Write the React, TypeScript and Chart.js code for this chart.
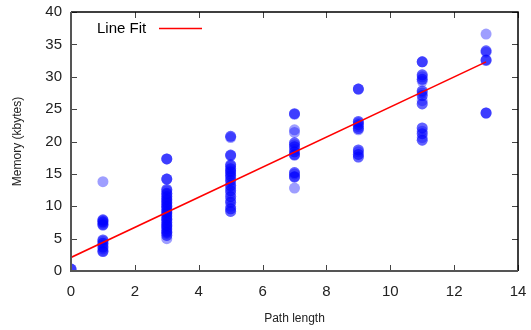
import React, { useEffect, useRef } from "react";
import { Chart, registerables } from "chart.js";

Chart.register(...registerables);

const pathLengths = [0, 1, 3, 5, 7, 9, 11, 13];
const memAt0 = [0.3, 0.3, 0.3];
const memAt1 = [13.8, 7.9, 7.9, 7.8, 7.6, 7.6, 7.4, 7.2, 7.1, 7.1, 4.8, 4.8, 4.6, 4.3, 4.3, 4.0, 3.7, 3.7, 3.4, 3.1, 3.0, 3.0];
const memAt3 = [17.3, 17.3, 17.3, 14.2, 14.2, 14.2, 12.6, 12.6, 12.4, 12.0, 12.0, 11.8, 11.5, 11.5, 11.2, 11.0, 11.0, 10.7, 10.5, 10.5, 10.2, 10.0, 10.0, 9.8, 9.5, 9.5, 9.2, 9.0, 9.0, 8.8, 8.5, 8.5, 8.2, 8.0, 8.0, 7.8, 7.5, 7.5, 7.2, 7.0, 7.0, 6.8, 6.5, 6.5, 6.2, 6.0, 6.0, 5.8, 5.5, 5.5, 5.0];
const memAt5 = [20.8, 20.8, 20.6, 17.9, 17.9, 17.8, 16.4, 16.4, 16.2, 15.8, 15.8, 15.5, 15.3, 15.3, 15.0, 14.7, 14.7, 14.4, 14.0, 14.0, 13.6, 13.2, 13.2, 12.8, 12.4, 12.4, 12.0, 11.5, 11.5, 11.0, 10.6, 10.6, 10.0, 9.6, 9.6, 9.2, 9.2];
const memAt7 = [24.3, 24.3, 24.2, 21.8, 21.4, 19.8, 19.8, 19.5, 19.2, 19.2, 18.8, 18.4, 18.4, 18.0, 17.9, 17.9, 15.2, 15.2, 15.0, 14.6, 14.5, 14.5, 12.8];
const memAt9 = [28.1, 28.1, 28.1, 23.1, 23.1, 22.9, 22.6, 22.6, 22.3, 22.0, 22.0, 21.8, 18.7, 18.7, 18.4, 18.0, 18.0, 17.6, 17.6];
const memAt11 = [32.3, 32.3, 32.3, 30.3, 30.3, 30.0, 29.6, 29.6, 29.3, 27.8, 27.8, 27.5, 27.1, 27.1, 26.3, 25.8, 25.8, 22.1, 22.1, 21.6, 21.2, 21.2, 20.6, 20.2, 20.2];
const memAt13 = [36.6, 34.0, 34.0, 33.8, 32.6, 32.6, 32.5, 24.4, 24.4, 24.4];
const memoryByPath = [memAt0, memAt1, memAt3, memAt5, memAt7, memAt9, memAt11, memAt13];

const fitX = [0, 13];
const fitY = [2.1, 32.3];

const xTicks = [0, 2, 4, 6, 8, 10, 12, 14];
const yTicks = [0, 5, 10, 15, 20, 25, 30, 35, 40];

const legendLabel = "Line Fit";
const xTitle = "Path length";
const yTitle = "Memory (kbytes)";

const FONT = "'Liberation Sans', Arial, Helvetica, sans-serif";

const framePlugin = {
  id: "frameTicks",
  afterDatasetsDraw(chart: any) {
    const { ctx, chartArea } = chart;
    const { left, right, top, bottom } = chartArea;
    const xs = chart.scales.x;
    const ys = chart.scales.y;
    const tl = 6;
    ctx.save();
    ctx.lineWidth = 1;
    ctx.strokeStyle = "#444";
    ctx.beginPath();
    for (const v of xTicks) {
      const px = Math.round(xs.getPixelForValue(v)) + 0.5;
      ctx.moveTo(px, bottom);
      ctx.lineTo(px, bottom - tl);
      ctx.moveTo(px, top);
      ctx.lineTo(px, top + tl);
    }
    for (const v of yTicks) {
      const py = Math.round(ys.getPixelForValue(v)) + 0.5;
      ctx.moveTo(left, py);
      ctx.lineTo(left + tl, py);
      ctx.moveTo(right, py);
      ctx.lineTo(right - tl, py);
    }
    ctx.stroke();
    ctx.lineWidth = 1.5;
    ctx.strokeStyle = "#000";
    ctx.beginPath();
    ctx.moveTo(left, top);
    ctx.lineTo(right, top);
    ctx.lineTo(right, bottom);
    ctx.stroke();
    ctx.lineWidth = 2;
    ctx.strokeStyle = "#555";
    ctx.beginPath();
    ctx.moveTo(left, top);
    ctx.lineTo(left, bottom);
    ctx.lineTo(right, bottom);
    ctx.stroke();
    ctx.font = `15px ${FONT}`;
    ctx.fillStyle = "#000";
    ctx.textAlign = "left";
    ctx.textBaseline = "middle";
    ctx.fillText(legendLabel, left + 26, top + 17);
    ctx.strokeStyle = "#ff0000";
    ctx.lineWidth = 1.5;
    ctx.beginPath();
    ctx.moveTo(left + 88, top + 16.5);
    ctx.lineTo(left + 131, top + 16.5);
    ctx.stroke();
    ctx.restore();
  },
};

export default function App() {
  const canvasRef = useRef<HTMLCanvasElement | null>(null);

  useEffect(() => {
    if (!canvasRef.current) return;
    const points: { x: number; y: number }[] = [];
    pathLengths.forEach((p, i) => {
      memoryByPath[i].forEach((m) => points.push({ x: p, y: m }));
    });
    const fitPoints = fitX.map((x, i) => ({ x, y: fitY[i] }));

    const chart = new Chart(canvasRef.current, {
      type: "scatter",
      data: {
        datasets: [
          {
            label: "Data",
            data: points,
            pointRadius: 5.5,
            pointHoverRadius: 5.5,
            pointBorderWidth: 0,
            backgroundColor: "rgba(0,0,255,0.38)",
            borderColor: "rgba(0,0,255,0)",
            clip: 0,
            order: 2,
          } as any,
          {
            label: legendLabel,
            data: fitPoints,
            showLine: true,
            pointRadius: 0,
            borderColor: "#ff0000",
            borderWidth: 1.6,
            backgroundColor: "#ff0000",
            order: 1,
          } as any,
        ],
      },
      options: {
        animation: false,
        responsive: true,
        maintainAspectRatio: false,
        layout: { padding: { left: 0, top: 12, right: 13, bottom: 0 } },
        plugins: {
          legend: { display: false },
          tooltip: { enabled: false },
        },
        scales: {
          x: {
            type: "linear",
            min: 0,
            max: 14,
            afterFit: (s: any) => {
              s.height = 59;
              s.paddingLeft = 0;
              s.paddingRight = 0;
            },
            afterBuildTicks: (s: any) => {
              s.ticks = xTicks.map((v) => ({ value: v }));
            },
            grid: { display: false, drawTicks: false },
            border: { display: false },
            ticks: { padding: 12, color: "#222", font: { family: FONT, size: 15 }, maxRotation: 0 },
            title: { display: true, text: xTitle, color: "#222", font: { family: FONT, size: 12 }, padding: { top: 4, bottom: 4 } },
          },
          y: {
            type: "linear",
            min: 0,
            max: 40,
            afterFit: (s: any) => {
              s.width = 71;
              s.paddingTop = 0;
              s.paddingBottom = 0;
            },
            afterBuildTicks: (s: any) => {
              s.ticks = yTicks.map((v) => ({ value: v }));
            },
            grid: { display: false, drawTicks: false },
            border: { display: false },
            ticks: { padding: 9, color: "#222", font: { family: FONT, size: 15 } },
            title: { display: true, text: yTitle, color: "#222", font: { family: FONT, size: 12 }, padding: { top: 10, bottom: 4 } },
          },
        },
      },
      plugins: [framePlugin],
    });
    return () => chart.destroy();
  }, []);

  return (
    <div style={{ position: "fixed", left: 0, top: 0, width: 531, height: 330, background: "#fff" }}>
      <canvas ref={canvasRef} />
    </div>
  );
}
